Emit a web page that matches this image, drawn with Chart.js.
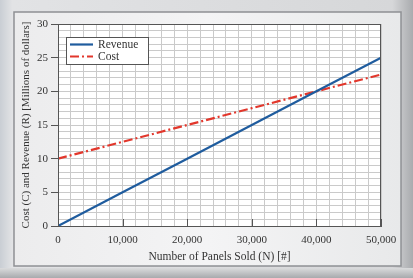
<!DOCTYPE html>
<html>
<head>
<meta charset="utf-8">
<script src="https://cdn.jsdelivr.net/npm/chart.js@4.4.1/dist/chart.umd.min.js"></script>
<style>
  body { margin: 0; background: #d8d9db; }
  canvas { display: block; }
</style>
</head>
<body>
<canvas id="breakEven" width="413" height="278"></canvas>
<script>
// values
const panelsSold = [0, 10000, 20000, 30000, 40000, 50000];
const revenue = [0, 5, 10, 15, 20, 25];
const cost = [10, 12.5, 15, 17.5, 20, 22.5];
const seriesNames = ["Revenue", "Cost"];

const serif = "'Liberation Serif', 'DejaVu Serif', serif";
const blue = "#1f5c9e";
const red = "#e2372c";

// grey metal frame behind the plot
const framePlugin = {
  id: "frame",
  beforeDraw(chart) {
    const ctx = chart.ctx;
    const W = chart.width, H = chart.height;
    ctx.save();
    let g = ctx.createLinearGradient(0, 0, W, 0);
    g.addColorStop(0, "#c9ced4");
    g.addColorStop(0.03, "#e2e3e5");
    g.addColorStop(0.95, "#d6d7d9");
    g.addColorStop(1, "#a9abae");
    ctx.fillStyle = g;
    ctx.fillRect(0, 0, W, H);
    // bottom band
    g = ctx.createLinearGradient(0, 266, 0, H);
    g.addColorStop(0, "#e4e5e6");
    g.addColorStop(1, "#a8aaad");
    ctx.fillStyle = g;
    ctx.fillRect(0, 268, W, H - 268);
    // inner panel
    g = ctx.createLinearGradient(14, 0, 401, 0);
    g.addColorStop(0, "#ececed");
    g.addColorStop(0.5, "#f4f4f5");
    g.addColorStop(1, "#e8e9ea");
    ctx.fillStyle = g;
    ctx.fillRect(14, 12, 387, 254);
    ctx.strokeStyle = "#8e9094";
    ctx.lineWidth = 1.5;
    ctx.strokeRect(14, 12, 387, 254);
    // plot background
    const a = chart.chartArea;
    ctx.fillStyle = "#ffffff";
    ctx.fillRect(a.left, a.top, a.right - a.left, a.bottom - a.top);
    ctx.restore();
  },
  afterDatasetsDraw(chart) {
    const ctx = chart.ctx;
    const a = chart.chartArea;
    const xs = chart.scales.x;
    ctx.save();
    ctx.strokeStyle = "#555";
    ctx.lineWidth = 1;
    ctx.strokeRect(a.left + 0.5, a.top + 0.5, a.right - a.left - 1, a.bottom - a.top);
    // inward ticks on the x axis
    xs.ticks.forEach(t => {
      if (t.value % 10000 === 0) {
        const px = Math.round(xs.getPixelForValue(t.value)) + 0.5;
        ctx.beginPath();
        ctx.moveTo(px, a.bottom);
        ctx.lineTo(px, a.bottom - 7);
        ctx.stroke();
      }
    });
    // legend box
    const lx = 66, ly = 37, lw = 82, lh = 27;
    ctx.fillStyle = "#fff";
    ctx.fillRect(lx, ly, lw, lh);
    ctx.strokeStyle = "#555";
    ctx.strokeRect(lx + 0.5, ly + 0.5, lw, lh);
    ctx.font = "11.5px " + serif;
    ctx.textBaseline = "middle";
    chart.data.datasets.forEach((ds, i) => {
      const y = ly + 7.5 + i * 12;
      ctx.strokeStyle = ds.borderColor;
      ctx.lineWidth = ds.borderWidth;
      ctx.setLineDash(ds.borderDash || []);
      ctx.beginPath();
      ctx.moveTo(70, y);
      ctx.lineTo(93, y);
      ctx.stroke();
      ctx.setLineDash([]);
      ctx.fillStyle = "#333";
      ctx.fillText(ds.label, 98, y + 0.5);
    });
    ctx.restore();
  }
};

const toPoints = ys => panelsSold.map((x, i) => ({ x: x, y: ys[i] }));

new Chart(document.getElementById("breakEven"), {
  type: "line",
  data: {
    datasets: [
      {
        label: seriesNames[0],
        data: toPoints(revenue),
        borderColor: blue,
        borderWidth: 2.2,
        pointRadius: 0,
      },
      {
        label: seriesNames[1],
        data: toPoints(cost),
        borderColor: red,
        borderWidth: 2.2,
        borderDash: [9, 3, 2, 3],
        pointRadius: 0,
      },
    ],
  },
  options: {
    responsive: false,
    devicePixelRatio: 1,
    animation: false,
    layout: {
      padding: { left: 0, top: 24, right: 32, bottom: 0 },
    },
    plugins: {
      legend: { display: false },
      tooltip: { enabled: false },
    },
    scales: {
      x: {
        type: "linear",
        min: 0,
        max: 50000,
        afterFit: s => { s.height = 52; },
        grid: {
          color: "#cacaca",
          drawTicks: false,
        },
        border: { color: "#555" },
        ticks: {
          stepSize: 2000,
          autoSkip: false,
          maxRotation: 0,
          padding: 8,
          color: "#333",
          font: { family: serif, size: 11 },
          callback: v => (v % 10000 === 0 ? v.toLocaleString("en-US") : ""),
        },
        title: {
          display: true,
          text: "Number of Panels Sold (N) [#]",
          color: "#333",
          font: { family: serif, size: 11.5 },
          padding: { top: 0, bottom: 14 },
        },
      },
      y: {
        min: 0,
        max: 30,
        afterFit: s => { s.width = 58; },
        grid: {
          color: "#cacaca",
          tickLength: 7,
          tickColor: c => (c.tick && c.tick.value % 5 === 0 ? "#555" : "transparent"),
        },
        border: { color: "#555" },
        ticks: {
          stepSize: 1,
          autoSkip: false,
          padding: 3,
          color: "#333",
          font: { family: serif, size: 11 },
          callback: v => (v % 5 === 0 ? v : ""),
        },
        title: {
          display: true,
          text: "Cost (C) and Revenue (R) [Millions of dollars]",
          color: "#333",
          font: { family: serif, size: 11 },
          padding: { top: 20, bottom: 0 },
        },
      },
    },
  },
  plugins: [framePlugin],
});
</script>
</body>
</html>
